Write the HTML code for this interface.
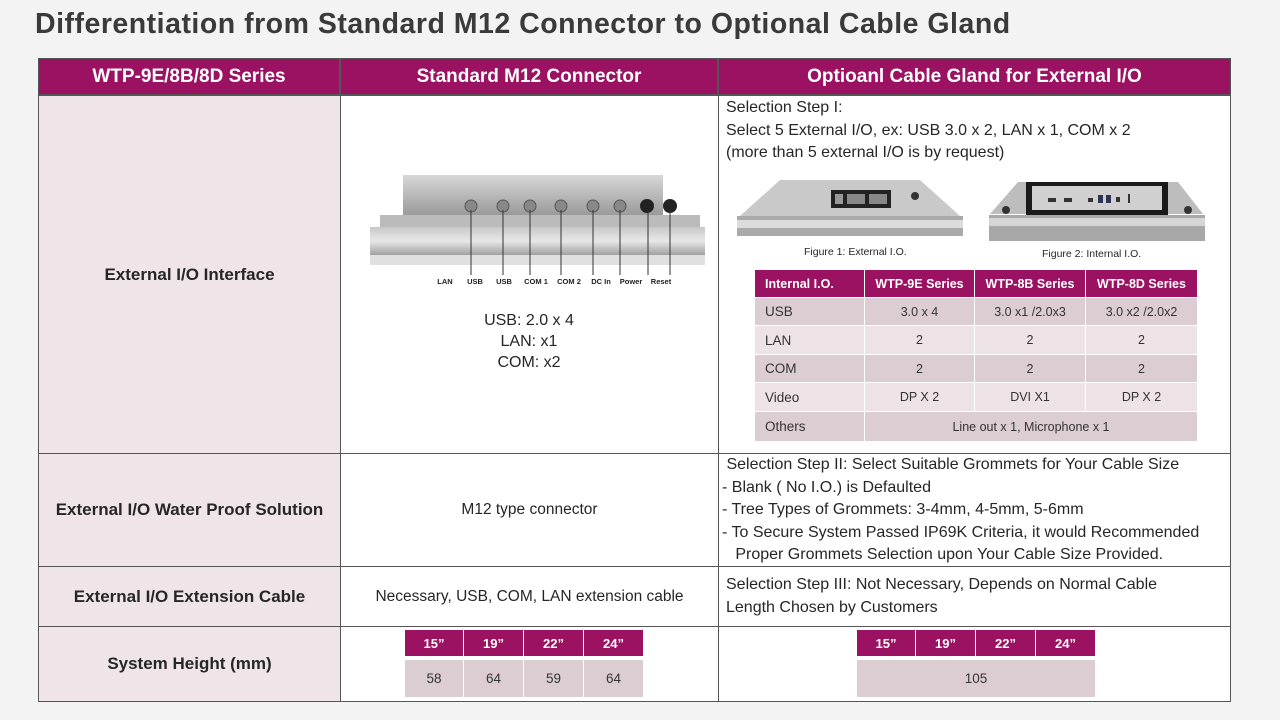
<!DOCTYPE html>
<html><head><meta charset="utf-8">
<style>
*{margin:0;padding:0;box-sizing:border-box}
body{width:1280px;height:720px;background:#f3f3f3;font-family:"Liberation Sans",sans-serif;color:#262626;position:relative;overflow:hidden}
.a{position:absolute}
.t{position:absolute;white-space:nowrap}
.hd{background:#9c1262;color:#fff;font-weight:bold;font-size:19px;display:flex;align-items:center;justify-content:center}
.cell{position:absolute;border:1px solid #555;display:flex;align-items:center;justify-content:center;text-align:center}
.pk{background:#efe5e9;font-weight:bold;font-size:17px}
.wh{background:#fff;font-size:15.5px}
.it div{position:absolute;display:flex;align-items:center;justify-content:center;font-size:12.5px;color:#333}
.ih{background:#9c1262!important;color:#fff!important;font-weight:bold}
.r1{background:#dccdd3}
.r2{background:#ede3e7}
</style></head><body>
<div class="t" style="left:35px;top:8px;font-size:28.5px;font-weight:bold;color:#3a3a3a;letter-spacing:0.5px">Differentiation from Standard M12 Connector to Optional Cable Gland</div>

<!-- header -->
<div class="a hd" style="left:38px;top:58px;width:302px;height:37px;border:1px solid #555">WTP-9E/8B/8D Series</div>
<div class="a hd" style="left:340px;top:58px;width:378px;height:37px;border:1px solid #555">Standard M12 Connector</div>
<div class="a hd" style="left:718px;top:58px;width:513px;height:37px;border:1px solid #555">Optioanl Cable Gland for External I/O</div>

<!-- left column -->
<div class="cell pk" style="left:38px;top:95px;width:303px;height:359px">External I/O Interface</div>
<div class="cell pk" style="left:38px;top:453px;width:303px;height:114px">External I/O Water Proof Solution</div>
<div class="cell pk" style="left:38px;top:566px;width:303px;height:61px">External I/O Extension Cable</div>
<div class="cell pk" style="left:38px;top:626px;width:303px;height:76px">System Height (mm)</div>

<!-- middle -->
<div class="cell wh" style="left:340px;top:95px;width:379px;height:359px"></div>
<div class="cell wh" style="left:340px;top:453px;width:379px;height:114px">M12 type connector</div>
<div class="cell wh" style="left:340px;top:566px;width:379px;height:61px">Necessary, USB, COM, LAN extension cable</div>
<div class="cell wh" style="left:340px;top:626px;width:379px;height:76px"></div>

<!-- right -->
<div class="cell wh" style="left:718px;top:95px;width:513px;height:359px"></div>
<div class="cell wh" style="left:718px;top:453px;width:513px;height:114px"></div>
<div class="cell wh" style="left:718px;top:566px;width:513px;height:61px"></div>
<div class="cell wh" style="left:718px;top:626px;width:513px;height:76px"></div>

<!-- device image 1 -->
<svg class="a" style="left:365px;top:170px" width="340" height="120">
<defs><linearGradient id="g1" x1="0" y1="0" x2="0" y2="1"><stop offset="0" stop-color="#d8d8d8"/><stop offset="1" stop-color="#9a9a9a"/></linearGradient>
<linearGradient id="g2" x1="0" y1="0" x2="0" y2="1"><stop offset="0" stop-color="#c8c8c8"/><stop offset="0.5" stop-color="#e8e8e8"/><stop offset="1" stop-color="#a0a0a0"/></linearGradient></defs>
<rect x="38" y="5" width="260" height="40" fill="url(#g1)"/>
<rect x="15" y="45" width="320" height="12" fill="#bbb"/>
<rect x="5" y="57" width="335" height="28" fill="url(#g2)"/>
<rect x="5" y="85" width="335" height="10" fill="#e0e0e0"/>
<g fill="#888" stroke="#555"><circle cx="106" cy="36" r="6"/><circle cx="138" cy="36" r="6"/><circle cx="165" cy="36" r="6"/><circle cx="196" cy="36" r="6"/><circle cx="228" cy="36" r="6"/><circle cx="255" cy="36" r="6"/></g>
<circle cx="282" cy="36" r="7" fill="#222"/><circle cx="305" cy="36" r="7" fill="#222"/>
<g stroke="#333" stroke-width="1"><line x1="106" y1="40" x2="106" y2="105"/><line x1="138" y1="40" x2="138" y2="105"/><line x1="165" y1="40" x2="165" y2="105"/><line x1="196" y1="40" x2="196" y2="105"/><line x1="228" y1="40" x2="228" y2="105"/><line x1="255" y1="40" x2="255" y2="105"/><line x1="283" y1="40" x2="283" y2="105"/><line x1="305" y1="40" x2="305" y2="105"/></g>
<g font-family="Liberation Sans" font-size="7.5" font-weight="bold" fill="#222" text-anchor="middle">
<text x="80" y="114">LAN</text><text x="110" y="114">USB</text><text x="139" y="114">USB</text><text x="171" y="114">COM 1</text><text x="204" y="114">COM 2</text><text x="236" y="114">DC In</text><text x="266" y="114">Power</text><text x="296" y="114">Reset</text></g>
</svg>
<div class="t" style="left:340px;width:378px;top:310px;text-align:center;font-size:16px;line-height:21px">USB: 2.0 x 4<br>LAN: x1<br>COM: x2</div>

<!-- right top text -->
<div class="t" style="left:726px;top:97px;font-size:16px;line-height:22.5px">Selection Step I:<br>Select 5 External I/O, ex: USB 3.0 x 2, LAN x 1, COM x 2<br>(more than 5 external I/O is by request)</div>

<!-- fig1 -->
<svg class="a" style="left:735px;top:178px" width="230" height="62">
<path d="M45 2 L185 2 L225 38 L5 38 Z" fill="#c9c9c9"/>
<rect x="96" y="12" width="60" height="18" fill="#222"/>
<rect x="100" y="16" width="8" height="10" fill="#999"/><rect x="112" y="16" width="18" height="10" fill="#888"/><rect x="134" y="16" width="18" height="10" fill="#888"/>
<circle cx="180" cy="18" r="4" fill="#333"/>
<rect x="2" y="38" width="226" height="20" fill="#aaa"/><rect x="2" y="42" width="226" height="8" fill="#ddd"/>
</svg>
<div class="t" style="left:804px;top:246px;font-size:10.5px">Figure 1: External I.O.</div>
<!-- fig2 -->
<svg class="a" style="left:988px;top:180px" width="218" height="64">
<path d="M30 2 L190 2 L215 34 L2 34 Z" fill="#bdbdbd"/>
<rect x="38" y="2" width="142" height="33" fill="#1a1a1a"/>
<rect x="44" y="6" width="130" height="24" fill="#d0d0d0"/>
<g fill="#333"><rect x="60" y="18" width="8" height="4"/><rect x="76" y="18" width="8" height="4"/><rect x="100" y="18" width="5" height="4"/><rect x="110" y="15" width="5" height="8" fill="#335"/><rect x="118" y="15" width="5" height="8" fill="#335"/><rect x="128" y="17" width="4" height="5"/><rect x="140" y="14" width="2" height="9"/></g>
<circle cx="18" cy="30" r="4" fill="#333"/><circle cx="200" cy="30" r="4" fill="#333"/>
<rect x="1" y="35" width="216" height="26" fill="#a8a8a8"/><rect x="1" y="38" width="216" height="8" fill="#d6d6d6"/>
</svg>
<div class="t" style="left:1042px;top:248px;font-size:10.5px">Figure 2: Internal I.O.</div>

<!-- internal io table -->
<div class="a it" style="left:755px;top:270px;width:442px;height:171px">
<div class="ih" style="left:0;top:0;width:109px;height:27px;justify-content:flex-start;padding-left:10px">Internal I.O.</div>
<div class="ih" style="left:110px;top:0;width:109px;height:27px">WTP-9E Series</div>
<div class="ih" style="left:220px;top:0;width:110px;height:27px">WTP-8B Series</div>
<div class="ih" style="left:331px;top:0;width:111px;height:27px">WTP-8D Series</div>

<div class="r1" style="left:0;top:28px;width:109px;height:27px;justify-content:flex-start;padding-left:10px;font-size:13.5px">USB</div>
<div class="r1" style="left:110px;top:28px;width:109px;height:27px">3.0 x 4</div>
<div class="r1" style="left:220px;top:28px;width:110px;height:27px">3.0 x1 /2.0x3</div>
<div class="r1" style="left:331px;top:28px;width:111px;height:27px">3.0 x2 /2.0x2</div>

<div class="r2" style="left:0;top:56px;width:109px;height:28px;justify-content:flex-start;padding-left:10px;font-size:13.5px">LAN</div>
<div class="r2" style="left:110px;top:56px;width:109px;height:28px">2</div>
<div class="r2" style="left:220px;top:56px;width:110px;height:28px">2</div>
<div class="r2" style="left:331px;top:56px;width:111px;height:28px">2</div>

<div class="r1" style="left:0;top:85px;width:109px;height:27px;justify-content:flex-start;padding-left:10px;font-size:13.5px">COM</div>
<div class="r1" style="left:110px;top:85px;width:109px;height:27px">2</div>
<div class="r1" style="left:220px;top:85px;width:110px;height:27px">2</div>
<div class="r1" style="left:331px;top:85px;width:111px;height:27px">2</div>

<div class="r2" style="left:0;top:113px;width:109px;height:28px;justify-content:flex-start;padding-left:10px;font-size:13.5px">Video</div>
<div class="r2" style="left:110px;top:113px;width:109px;height:28px">DP X 2</div>
<div class="r2" style="left:220px;top:113px;width:110px;height:28px">DVI X1</div>
<div class="r2" style="left:331px;top:113px;width:111px;height:28px">DP X 2</div>

<div class="r1" style="left:0;top:142px;width:109px;height:29px;justify-content:flex-start;padding-left:10px;font-size:13.5px">Others</div>
<div class="r1" style="left:110px;top:142px;width:332px;height:29px">Line out x 1, Microphone x 1</div>
</div>

<!-- step II -->
<div class="t" style="left:722px;top:454px;font-size:16px;line-height:22.5px">&nbsp;Selection Step II: Select Suitable Grommets for Your Cable Size<br>- Blank ( No I.O.) is Defaulted<br>- Tree Types of Grommets: 3-4mm, 4-5mm, 5-6mm<br>- To Secure System Passed IP69K Criteria, it would Recommended<br>&nbsp;&nbsp;&nbsp;Proper Grommets Selection upon Your Cable Size Provided.</div>
<div class="t" style="left:726px;top:574px;font-size:16px;line-height:22.5px">Selection Step III: Not Necessary, Depends on Normal Cable<br>Length Chosen by Customers</div>

<!-- bottom tables -->
<div class="a it" style="left:405px;top:630px;width:238px;height:68px">
<div class="ih" style="left:0;top:0;width:58px;height:26px;font-size:13px">15”</div>
<div class="ih" style="left:59px;top:0;width:59px;height:26px;font-size:13px">19”</div>
<div class="ih" style="left:119px;top:0;width:59px;height:26px;font-size:13px">22”</div>
<div class="ih" style="left:179px;top:0;width:59px;height:26px;font-size:13px">24”</div>
<div class="r1" style="left:0;top:30px;width:58px;height:37px;font-size:13.5px">58</div>
<div class="r1" style="left:59px;top:30px;width:59px;height:37px;font-size:13.5px">64</div>
<div class="r1" style="left:119px;top:30px;width:59px;height:37px;font-size:13.5px">59</div>
<div class="r1" style="left:179px;top:30px;width:59px;height:37px;font-size:13.5px">64</div>
</div>
<div class="a it" style="left:857px;top:630px;width:238px;height:68px">
<div class="ih" style="left:0;top:0;width:58px;height:26px;font-size:13px">15”</div>
<div class="ih" style="left:59px;top:0;width:59px;height:26px;font-size:13px">19”</div>
<div class="ih" style="left:119px;top:0;width:59px;height:26px;font-size:13px">22”</div>
<div class="ih" style="left:179px;top:0;width:59px;height:26px;font-size:13px">24”</div>
<div class="r1" style="left:0;top:30px;width:238px;height:37px;font-size:13.5px">105</div>
</div>
</body></html>
